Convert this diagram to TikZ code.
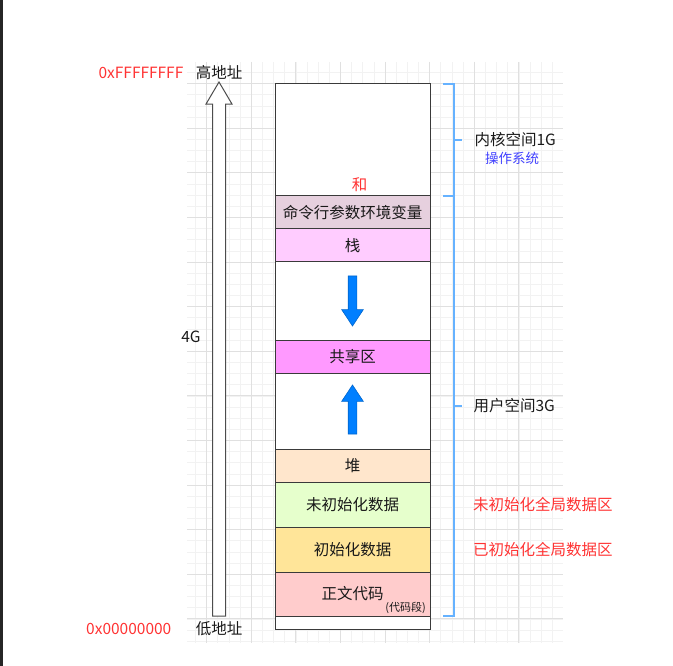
\documentclass[tikz,border=0pt]{standalone}
\usepackage{fontspec}
\setmainfont{Noto Sans CJK SC}
\usetikzlibrary{positioning,calc,shapes.arrows}

\definecolor{segline}{HTML}{3A3A3A}
\definecolor{cmdcol}{HTML}{E6D0DE}
\definecolor{stackcol}{HTML}{FFCCFF}
\definecolor{sharecol}{HTML}{FF99FF}
\definecolor{heapcol}{HTML}{FFE6CC}
\definecolor{bsscol}{HTML}{E6FFCC}
\definecolor{datacol}{HTML}{FFE599}
\definecolor{textcol}{HTML}{FFCCCC}
\definecolor{bracecol}{HTML}{66B2FF}
\definecolor{arrowfill}{HTML}{007FFF}
\definecolor{arrowline}{HTML}{0066CC}
\definecolor{redtxt}{HTML}{FF3333}
\definecolor{ostxt}{HTML}{4040FF}
\definecolor{gridmajor}{HTML}{E0E0E0}
\definecolor{gridminor}{HTML}{F2F2F2}

\begin{document}
\begin{tikzpicture}[x=1pt,y=-1pt,font=\fontsize{15.5}{18}\selectfont,text=black!90,
    seg/.style={draw=segline,line width=1pt,minimum width=155pt,inner sep=0pt,outer sep=0pt,anchor=north},
    bracket/.style={draw=bracecol,line width=1.2pt},
    lbl/.style={inner sep=0pt},
    blockarrow/.style={single arrow,draw=arrowline,fill=arrowfill,line width=0.6pt,inner sep=0pt,inner ysep=4pt,outer sep=0pt,
        single arrow head extend=6.5pt,single arrow tip angle=67,minimum height=50pt,anchor=tail}]
    \useasboundingbox (0,0) rectangle (673,666);
    \fill[black!85] (0,0) rectangle (2.5,666);

    % canvas grid
    \begin{scope}
        \clip (187,62) rectangle (563,643);
        \foreach \i in {-21,...,11}
            \draw[gridminor,line width=0.8pt] ({429.7+11.15*\i},62) -- ({429.7+11.15*\i},643);
        \foreach \j in {-1,...,50}
            \draw[gridminor,line width=0.8pt] (187,{83.7+11.15*\j}) -- (563,{83.7+11.15*\j});
        \foreach \i in {-20,-16,...,8}
            \draw[gridmajor,line width=0.9pt] ({429.7+11.15*\i},62) -- ({429.7+11.15*\i},643);
        \foreach \j in {0,4,...,48}
            \draw[gridmajor,line width=0.9pt] (187,{83.7+11.15*\j}) -- (563,{83.7+11.15*\j});
    \end{scope}

    % memory segments
    \node[seg,fill=white,minimum height=112pt] (kernel) at (352.5,84) {};
    \node[seg,fill=cmdcol,minimum height=33pt,below=0pt of kernel] (cmd) {命令行参数环境变量};
    \node[seg,fill=stackcol,minimum height=33pt,below=0pt of cmd] (stack) {栈};
    \node[seg,fill=white,minimum height=78pt,below=0pt of stack] (gapa) {};
    \node[seg,fill=sharecol,minimum height=33pt,below=0pt of gapa] (share) {共享区};
    \node[seg,fill=white,minimum height=76pt,below=0pt of share] (gapb) {};
    \node[seg,fill=heapcol,minimum height=33pt,below=0pt of gapb] (heap) {堆};
    \node[seg,fill=bsscol,minimum height=45pt,below=0pt of heap] (bss) {未初始化数据};
    \node[seg,fill=datacol,minimum height=45pt,below=0pt of bss] (data) {初始化数据};
    \node[seg,fill=textcol,minimum height=44pt,below=0pt of data] (text) {正文代码};
    \node[seg,fill=white,minimum height=13pt,below=0pt of text] (low) {};

    \node[lbl,text=redtxt] (he) at ([xshift=7pt,yshift=11pt]kernel.south) {和};
    \node[lbl,anchor=south east,font=\fontsize{11}{12}\selectfont] (textnote) at ([xshift=-4pt,yshift=2pt]text.south east) {(代码段)};

    % growth arrows
    \node[blockarrow,rotate=-90] (down) at ([yshift=-14pt]gapa.north) {};
    \node[blockarrow,rotate=90,minimum height=49pt] (up) at ([yshift=15pt]gapb.south) {};

    % address arrow
    \node[single arrow,draw=black!70,fill=white,line width=1pt,inner sep=0pt,inner ysep=6pt,outer sep=0pt,
        single arrow head extend=6.5pt,single arrow tip angle=61,minimum height=534pt,rotate=90,anchor=tail] (addr) at (219,616) {};
    \node[lbl] (hi) at ([yshift=9pt]addr.tip) {高地址};
    \node[lbl] (lo) at ([yshift=-13pt]addr.tail) {低地址};
    \node[lbl,text=redtxt,left=12pt of hi] (hihex) {0xFFFFFFFF};
    \node[lbl,text=redtxt,left=24pt of lo] (lohex) {0x00000000};
    \node[lbl] (total) at (191,337) {4G};

    % brackets
    \draw[bracket] ([xshift=13pt]kernel.north east) -- ++(11,0) |- ([xshift=13pt]kernel.south east);
    \draw[bracket] ([xshift=24pt]kernel.east) -- ++(8,0) node[lbl,anchor=west,xshift=12pt] (kname) {内核空间1G};
    \node[lbl,text=ostxt,font=\fontsize{13.5}{16}\selectfont] (os) at ($(kname.center)+(-3,18)$) {操作系统};
    \draw[bracket] ([xshift=13pt]cmd.north east) -- ++(11,0) |- ([xshift=13pt]text.south east);
    \coordinate (umid) at ($(cmd.north east)!0.5!(text.south east)$);
    \draw[bracket] ([xshift=24pt]umid) -- ++(8,0) node[lbl,anchor=west,xshift=11pt] (uname) {用户空间3G};

    \node[lbl,anchor=west,text=redtxt] (bsslbl) at ([xshift=43pt]bss.east) {未初始化全局数据区};
    \node[lbl,anchor=west,text=redtxt] (datalbl) at ([xshift=43pt]data.east) {已初始化全局数据区};
\end{tikzpicture}
\end{document}
